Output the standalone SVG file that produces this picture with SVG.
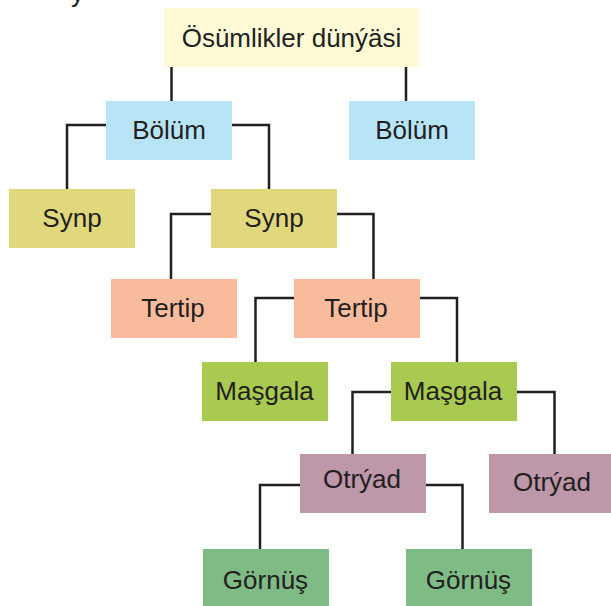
<svg xmlns="http://www.w3.org/2000/svg" width="611" height="606" viewBox="0 0 611 606">
<style>
text{font-family:"Liberation Sans",Arial,sans-serif;font-size:26px;fill:#231f20;text-anchor:middle}
.c path{fill:none;stroke:#231f20;stroke-width:2.5}
.k{fill:#fff9d5}.b{fill:#b8e4f8}.s{fill:#e1d87e}.t{fill:#f8bc9c}.m{fill:#a8ca50}.o{fill:#be97a8}.g{fill:#7fbb85}
</style>
<rect width="611" height="606" fill="#fff"/>
<text x="71" y="1.5" style="text-anchor:start">y</text>
<g class="c" id="connectors">
<path d="M171.5,67V101"/>
<path d="M406,67V101"/>
<path d="M106,125H67V189"/>
<path d="M232,125H269V189"/>
<path d="M211,214H171V279"/>
<path d="M337,214H373.5V279"/>
<path d="M294,298H255.5V362"/>
<path d="M420,298H457V362"/>
<path d="M391,392H352.5V454"/>
<path d="M517,392H554.5V454"/>
<path d="M300,485H260V549"/>
<path d="M426,485H462.5V549"/>
</g>
<g id="root"><rect class="k" x="164" y="8" width="255" height="59"/><text x="291.5" y="47">Ösümlikler dünýäsi</text></g>
<g id="bolum1"><rect class="b" x="106" y="101" width="126" height="59"/><text x="169" y="139">Bölüm</text></g>
<g id="bolum2"><rect class="b" x="349" y="101" width="126" height="59"/><text x="412" y="139">Bölüm</text></g>
<g id="synp1"><rect class="s" x="9" y="189" width="126" height="59"/><text x="72" y="227">Synp</text></g>
<g id="synp2"><rect class="s" x="211" y="189" width="126" height="59"/><text x="274" y="227">Synp</text></g>
<g id="tertip1"><rect class="t" x="111" y="279" width="126" height="59"/><text x="173" y="317">Tertip</text></g>
<g id="tertip2"><rect class="t" x="294" y="279" width="126" height="59"/><text x="356" y="317">Tertip</text></g>
<g id="masgala1"><rect class="m" x="202" y="362" width="126" height="59"/><text x="264.5" y="400">Maşgala</text></g>
<g id="masgala2"><rect class="m" x="391" y="362" width="126" height="59"/><text x="453" y="400">Maşgala</text></g>
<g id="otryad1"><rect class="o" x="300" y="454" width="126" height="59"/><text x="362" y="487.5">Otrýad</text></g>
<g id="otryad2"><rect class="o" x="489" y="454" width="126" height="59"/><text x="552" y="491">Otrýad</text></g>
<g id="gornus1"><rect class="g" x="203" y="549" width="126" height="57"/><text x="265.5" y="588.5">Görnüş</text></g>
<g id="gornus2"><rect class="g" x="406" y="549" width="126" height="57"/><text x="468.5" y="588.5">Görnüş</text></g>
</svg>
